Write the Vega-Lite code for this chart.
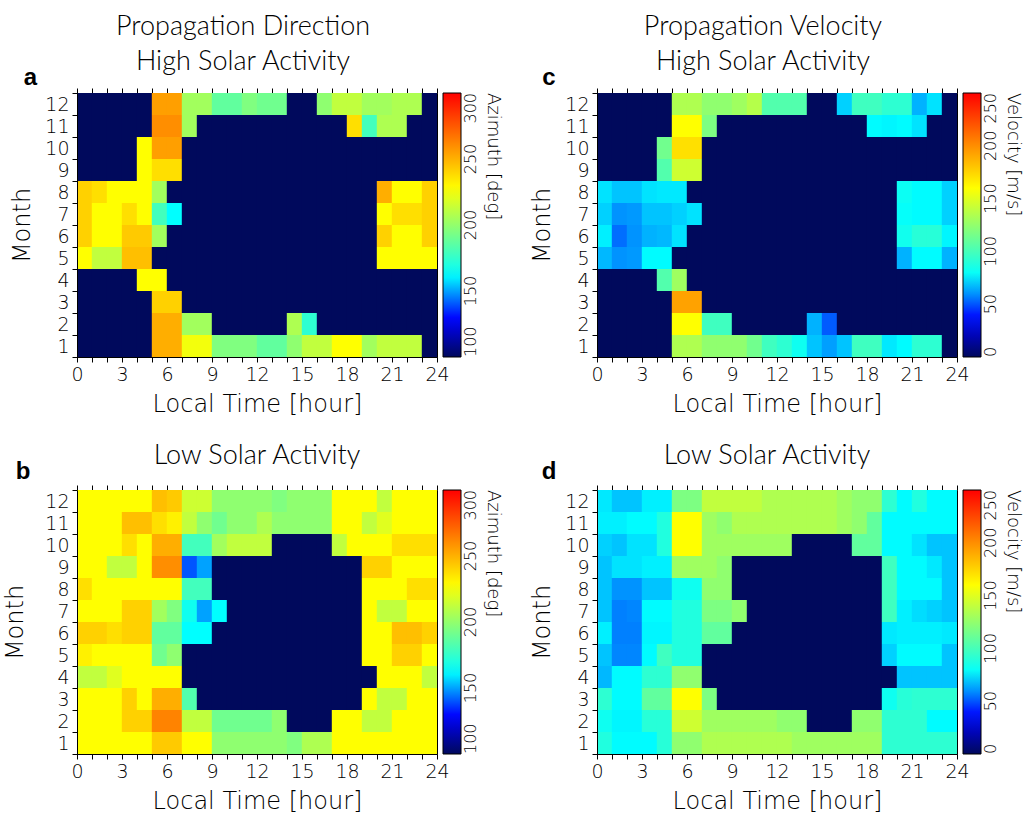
{
"$schema":"https://vega.github.io/schema/vega-lite/v6.json",
"padding":{"left":3,"top":12,"right":2,"bottom":2},
"background":"white",
"config":{
 "font":"DejaVu Sans",
 "view":{"stroke":"black","strokeWidth":1},
 "axis":{"labelFont":"DejaVu Sans","labelFontSize":19,"labelFontWeight":200,"labelColor":"black","titleFont":"DejaVu Sans","titleFontSize":24,"titleFontWeight":200,"titleColor":"black","tickColor":"black","domainColor":"black","grid":false,"labelFlush":false,"labelOverlap":false},
 "legend":{"gradientLength":264,"gradientThickness":18,"gradientStrokeColor":"black","gradientStrokeWidth":1,"offset":6,"titleOrient":"right","titleAngle":270,"titleAnchor":"end","titleFontSize":18,"titleFontWeight":200,"titleFont":"DejaVu Sans","titleColor":"black","labelFontSize":16,"labelFontWeight":200,"labelFont":"DejaVu Sans","labelColor":"black","labelOffset":4,"labelOverlap":false,"labelBaseline":"top"},
 "title":{"font":"Lato","fontSize":27,"fontWeight":300,"color":"black","lineHeight":35,"offset":-10}
},
"datasets":{
"a":[
{"m":12,"h":0,"v":100},{"m":12,"h":1,"v":100},{"m":12,"h":2,"v":100},{"m":12,"h":3,"v":100},{"m":12,"h":4,"v":100},{"m":12,"h":5,"v":255},{"m":12,"h":6,"v":255},{"m":12,"h":7,"v":204},{"m":12,"h":8,"v":204},{"m":12,"h":9,"v":187},{"m":12,"h":10,"v":187},{"m":12,"h":11,"v":195},{"m":12,"h":12,"v":191},{"m":12,"h":13,"v":191},{"m":12,"h":14,"v":100},{"m":12,"h":15,"v":100},{"m":12,"h":16,"v":199},{"m":12,"h":17,"v":212},{"m":12,"h":18,"v":212},{"m":12,"h":19,"v":204},{"m":12,"h":20,"v":204},{"m":12,"h":21,"v":207},{"m":12,"h":22,"v":207},{"m":12,"h":23,"v":100},
{"m":11,"h":0,"v":100},{"m":11,"h":1,"v":100},{"m":11,"h":2,"v":100},{"m":11,"h":3,"v":100},{"m":11,"h":4,"v":100},{"m":11,"h":5,"v":260},{"m":11,"h":6,"v":260},{"m":11,"h":7,"v":204},{"m":11,"h":8,"v":100},{"m":11,"h":9,"v":100},{"m":11,"h":10,"v":100},{"m":11,"h":11,"v":100},{"m":11,"h":12,"v":100},{"m":11,"h":13,"v":100},{"m":11,"h":14,"v":100},{"m":11,"h":15,"v":100},{"m":11,"h":16,"v":100},{"m":11,"h":17,"v":100},{"m":11,"h":18,"v":237},{"m":11,"h":19,"v":179},{"m":11,"h":20,"v":207},{"m":11,"h":21,"v":207},{"m":11,"h":22,"v":100},{"m":11,"h":23,"v":100},
{"m":10,"h":0,"v":100},{"m":10,"h":1,"v":100},{"m":10,"h":2,"v":100},{"m":10,"h":3,"v":100},{"m":10,"h":4,"v":228},{"m":10,"h":5,"v":255},{"m":10,"h":6,"v":255},{"m":10,"h":7,"v":100},{"m":10,"h":8,"v":100},{"m":10,"h":9,"v":100},{"m":10,"h":10,"v":100},{"m":10,"h":11,"v":100},{"m":10,"h":12,"v":100},{"m":10,"h":13,"v":100},{"m":10,"h":14,"v":100},{"m":10,"h":15,"v":100},{"m":10,"h":16,"v":100},{"m":10,"h":17,"v":100},{"m":10,"h":18,"v":100},{"m":10,"h":19,"v":100},{"m":10,"h":20,"v":100},{"m":10,"h":21,"v":100},{"m":10,"h":22,"v":100},{"m":10,"h":23,"v":100},
{"m":9,"h":0,"v":100},{"m":9,"h":1,"v":100},{"m":9,"h":2,"v":100},{"m":9,"h":3,"v":100},{"m":9,"h":4,"v":228},{"m":9,"h":5,"v":237},{"m":9,"h":6,"v":237},{"m":9,"h":7,"v":100},{"m":9,"h":8,"v":100},{"m":9,"h":9,"v":100},{"m":9,"h":10,"v":100},{"m":9,"h":11,"v":100},{"m":9,"h":12,"v":100},{"m":9,"h":13,"v":100},{"m":9,"h":14,"v":100},{"m":9,"h":15,"v":100},{"m":9,"h":16,"v":100},{"m":9,"h":17,"v":100},{"m":9,"h":18,"v":100},{"m":9,"h":19,"v":100},{"m":9,"h":20,"v":100},{"m":9,"h":21,"v":100},{"m":9,"h":22,"v":100},{"m":9,"h":23,"v":100},
{"m":8,"h":0,"v":241},{"m":8,"h":1,"v":237},{"m":8,"h":2,"v":228},{"m":8,"h":3,"v":228},{"m":8,"h":4,"v":228},{"m":8,"h":5,"v":204},{"m":8,"h":6,"v":100},{"m":8,"h":7,"v":100},{"m":8,"h":8,"v":100},{"m":8,"h":9,"v":100},{"m":8,"h":10,"v":100},{"m":8,"h":11,"v":100},{"m":8,"h":12,"v":100},{"m":8,"h":13,"v":100},{"m":8,"h":14,"v":100},{"m":8,"h":15,"v":100},{"m":8,"h":16,"v":100},{"m":8,"h":17,"v":100},{"m":8,"h":18,"v":100},{"m":8,"h":19,"v":100},{"m":8,"h":20,"v":251},{"m":8,"h":21,"v":228},{"m":8,"h":22,"v":228},{"m":8,"h":23,"v":241},
{"m":7,"h":0,"v":241},{"m":7,"h":1,"v":228},{"m":7,"h":2,"v":228},{"m":7,"h":3,"v":237},{"m":7,"h":4,"v":228},{"m":7,"h":5,"v":179},{"m":7,"h":6,"v":162},{"m":7,"h":7,"v":100},{"m":7,"h":8,"v":100},{"m":7,"h":9,"v":100},{"m":7,"h":10,"v":100},{"m":7,"h":11,"v":100},{"m":7,"h":12,"v":100},{"m":7,"h":13,"v":100},{"m":7,"h":14,"v":100},{"m":7,"h":15,"v":100},{"m":7,"h":16,"v":100},{"m":7,"h":17,"v":100},{"m":7,"h":18,"v":100},{"m":7,"h":19,"v":100},{"m":7,"h":20,"v":228},{"m":7,"h":21,"v":237},{"m":7,"h":22,"v":237},{"m":7,"h":23,"v":241},
{"m":6,"h":0,"v":241},{"m":6,"h":1,"v":228},{"m":6,"h":2,"v":228},{"m":6,"h":3,"v":243},{"m":6,"h":4,"v":243},{"m":6,"h":5,"v":204},{"m":6,"h":6,"v":100},{"m":6,"h":7,"v":100},{"m":6,"h":8,"v":100},{"m":6,"h":9,"v":100},{"m":6,"h":10,"v":100},{"m":6,"h":11,"v":100},{"m":6,"h":12,"v":100},{"m":6,"h":13,"v":100},{"m":6,"h":14,"v":100},{"m":6,"h":15,"v":100},{"m":6,"h":16,"v":100},{"m":6,"h":17,"v":100},{"m":6,"h":18,"v":100},{"m":6,"h":19,"v":100},{"m":6,"h":20,"v":241},{"m":6,"h":21,"v":228},{"m":6,"h":22,"v":228},{"m":6,"h":23,"v":241},
{"m":5,"h":0,"v":228},{"m":5,"h":1,"v":212},{"m":5,"h":2,"v":212},{"m":5,"h":3,"v":246},{"m":5,"h":4,"v":246},{"m":5,"h":5,"v":100},{"m":5,"h":6,"v":100},{"m":5,"h":7,"v":100},{"m":5,"h":8,"v":100},{"m":5,"h":9,"v":100},{"m":5,"h":10,"v":100},{"m":5,"h":11,"v":100},{"m":5,"h":12,"v":100},{"m":5,"h":13,"v":100},{"m":5,"h":14,"v":100},{"m":5,"h":15,"v":100},{"m":5,"h":16,"v":100},{"m":5,"h":17,"v":100},{"m":5,"h":18,"v":100},{"m":5,"h":19,"v":100},{"m":5,"h":20,"v":228},{"m":5,"h":21,"v":228},{"m":5,"h":22,"v":228},{"m":5,"h":23,"v":228},
{"m":4,"h":0,"v":100},{"m":4,"h":1,"v":100},{"m":4,"h":2,"v":100},{"m":4,"h":3,"v":100},{"m":4,"h":4,"v":228},{"m":4,"h":5,"v":228},{"m":4,"h":6,"v":100},{"m":4,"h":7,"v":100},{"m":4,"h":8,"v":100},{"m":4,"h":9,"v":100},{"m":4,"h":10,"v":100},{"m":4,"h":11,"v":100},{"m":4,"h":12,"v":100},{"m":4,"h":13,"v":100},{"m":4,"h":14,"v":100},{"m":4,"h":15,"v":100},{"m":4,"h":16,"v":100},{"m":4,"h":17,"v":100},{"m":4,"h":18,"v":100},{"m":4,"h":19,"v":100},{"m":4,"h":20,"v":100},{"m":4,"h":21,"v":100},{"m":4,"h":22,"v":100},{"m":4,"h":23,"v":100},
{"m":3,"h":0,"v":100},{"m":3,"h":1,"v":100},{"m":3,"h":2,"v":100},{"m":3,"h":3,"v":100},{"m":3,"h":4,"v":100},{"m":3,"h":5,"v":241},{"m":3,"h":6,"v":241},{"m":3,"h":7,"v":100},{"m":3,"h":8,"v":100},{"m":3,"h":9,"v":100},{"m":3,"h":10,"v":100},{"m":3,"h":11,"v":100},{"m":3,"h":12,"v":100},{"m":3,"h":13,"v":100},{"m":3,"h":14,"v":100},{"m":3,"h":15,"v":100},{"m":3,"h":16,"v":100},{"m":3,"h":17,"v":100},{"m":3,"h":18,"v":100},{"m":3,"h":19,"v":100},{"m":3,"h":20,"v":100},{"m":3,"h":21,"v":100},{"m":3,"h":22,"v":100},{"m":3,"h":23,"v":100},
{"m":2,"h":0,"v":100},{"m":2,"h":1,"v":100},{"m":2,"h":2,"v":100},{"m":2,"h":3,"v":100},{"m":2,"h":4,"v":100},{"m":2,"h":5,"v":251},{"m":2,"h":6,"v":251},{"m":2,"h":7,"v":204},{"m":2,"h":8,"v":204},{"m":2,"h":9,"v":100},{"m":2,"h":10,"v":100},{"m":2,"h":11,"v":100},{"m":2,"h":12,"v":100},{"m":2,"h":13,"v":100},{"m":2,"h":14,"v":207},{"m":2,"h":15,"v":174},{"m":2,"h":16,"v":100},{"m":2,"h":17,"v":100},{"m":2,"h":18,"v":100},{"m":2,"h":19,"v":100},{"m":2,"h":20,"v":100},{"m":2,"h":21,"v":100},{"m":2,"h":22,"v":100},{"m":2,"h":23,"v":100},
{"m":1,"h":0,"v":100},{"m":1,"h":1,"v":100},{"m":1,"h":2,"v":100},{"m":1,"h":3,"v":100},{"m":1,"h":4,"v":100},{"m":1,"h":5,"v":251},{"m":1,"h":6,"v":251},{"m":1,"h":7,"v":225},{"m":1,"h":8,"v":225},{"m":1,"h":9,"v":195},{"m":1,"h":10,"v":195},{"m":1,"h":11,"v":195},{"m":1,"h":12,"v":187},{"m":1,"h":13,"v":187},{"m":1,"h":14,"v":199},{"m":1,"h":15,"v":212},{"m":1,"h":16,"v":212},{"m":1,"h":17,"v":228},{"m":1,"h":18,"v":228},{"m":1,"h":19,"v":204},{"m":1,"h":20,"v":212},{"m":1,"h":21,"v":212},{"m":1,"h":22,"v":212},{"m":1,"h":23,"v":100}
],
"b":[
{"m":12,"h":0,"v":228},{"m":12,"h":1,"v":228},{"m":12,"h":2,"v":228},{"m":12,"h":3,"v":228},{"m":12,"h":4,"v":228},{"m":12,"h":5,"v":246},{"m":12,"h":6,"v":243},{"m":12,"h":7,"v":215},{"m":12,"h":8,"v":215},{"m":12,"h":9,"v":199},{"m":12,"h":10,"v":199},{"m":12,"h":11,"v":199},{"m":12,"h":12,"v":199},{"m":12,"h":13,"v":195},{"m":12,"h":14,"v":199},{"m":12,"h":15,"v":199},{"m":12,"h":16,"v":199},{"m":12,"h":17,"v":228},{"m":12,"h":18,"v":228},{"m":12,"h":19,"v":228},{"m":12,"h":20,"v":212},{"m":12,"h":21,"v":228},{"m":12,"h":22,"v":228},{"m":12,"h":23,"v":228},
{"m":11,"h":0,"v":228},{"m":11,"h":1,"v":228},{"m":11,"h":2,"v":228},{"m":11,"h":3,"v":246},{"m":11,"h":4,"v":246},{"m":11,"h":5,"v":237},{"m":11,"h":6,"v":232},{"m":11,"h":7,"v":212},{"m":11,"h":8,"v":199},{"m":11,"h":9,"v":191},{"m":11,"h":10,"v":199},{"m":11,"h":11,"v":199},{"m":11,"h":12,"v":207},{"m":11,"h":13,"v":199},{"m":11,"h":14,"v":199},{"m":11,"h":15,"v":199},{"m":11,"h":16,"v":199},{"m":11,"h":17,"v":228},{"m":11,"h":18,"v":228},{"m":11,"h":19,"v":212},{"m":11,"h":20,"v":220},{"m":11,"h":21,"v":228},{"m":11,"h":22,"v":228},{"m":11,"h":23,"v":228},
{"m":10,"h":0,"v":228},{"m":10,"h":1,"v":228},{"m":10,"h":2,"v":228},{"m":10,"h":3,"v":237},{"m":10,"h":4,"v":228},{"m":10,"h":5,"v":251},{"m":10,"h":6,"v":251},{"m":10,"h":7,"v":179},{"m":10,"h":8,"v":179},{"m":10,"h":9,"v":204},{"m":10,"h":10,"v":212},{"m":10,"h":11,"v":212},{"m":10,"h":12,"v":212},{"m":10,"h":13,"v":100},{"m":10,"h":14,"v":100},{"m":10,"h":15,"v":100},{"m":10,"h":16,"v":100},{"m":10,"h":17,"v":212},{"m":10,"h":18,"v":228},{"m":10,"h":19,"v":228},{"m":10,"h":20,"v":228},{"m":10,"h":21,"v":237},{"m":10,"h":22,"v":237},{"m":10,"h":23,"v":237},
{"m":9,"h":0,"v":228},{"m":9,"h":1,"v":228},{"m":9,"h":2,"v":212},{"m":9,"h":3,"v":212},{"m":9,"h":4,"v":228},{"m":9,"h":5,"v":260},{"m":9,"h":6,"v":260},{"m":9,"h":7,"v":140},{"m":9,"h":8,"v":150},{"m":9,"h":9,"v":100},{"m":9,"h":10,"v":100},{"m":9,"h":11,"v":100},{"m":9,"h":12,"v":100},{"m":9,"h":13,"v":100},{"m":9,"h":14,"v":100},{"m":9,"h":15,"v":100},{"m":9,"h":16,"v":100},{"m":9,"h":17,"v":100},{"m":9,"h":18,"v":100},{"m":9,"h":19,"v":241},{"m":9,"h":20,"v":241},{"m":9,"h":21,"v":228},{"m":9,"h":22,"v":228},{"m":9,"h":23,"v":228},
{"m":8,"h":0,"v":237},{"m":8,"h":1,"v":228},{"m":8,"h":2,"v":228},{"m":8,"h":3,"v":228},{"m":8,"h":4,"v":228},{"m":8,"h":5,"v":228},{"m":8,"h":6,"v":228},{"m":8,"h":7,"v":179},{"m":8,"h":8,"v":179},{"m":8,"h":9,"v":100},{"m":8,"h":10,"v":100},{"m":8,"h":11,"v":100},{"m":8,"h":12,"v":100},{"m":8,"h":13,"v":100},{"m":8,"h":14,"v":100},{"m":8,"h":15,"v":100},{"m":8,"h":16,"v":100},{"m":8,"h":17,"v":100},{"m":8,"h":18,"v":100},{"m":8,"h":19,"v":228},{"m":8,"h":20,"v":228},{"m":8,"h":21,"v":228},{"m":8,"h":22,"v":237},{"m":8,"h":23,"v":237},
{"m":7,"h":0,"v":228},{"m":7,"h":1,"v":228},{"m":7,"h":2,"v":228},{"m":7,"h":3,"v":241},{"m":7,"h":4,"v":241},{"m":7,"h":5,"v":204},{"m":7,"h":6,"v":195},{"m":7,"h":7,"v":166},{"m":7,"h":8,"v":150},{"m":7,"h":9,"v":162},{"m":7,"h":10,"v":100},{"m":7,"h":11,"v":100},{"m":7,"h":12,"v":100},{"m":7,"h":13,"v":100},{"m":7,"h":14,"v":100},{"m":7,"h":15,"v":100},{"m":7,"h":16,"v":100},{"m":7,"h":17,"v":100},{"m":7,"h":18,"v":100},{"m":7,"h":19,"v":228},{"m":7,"h":20,"v":212},{"m":7,"h":21,"v":212},{"m":7,"h":22,"v":228},{"m":7,"h":23,"v":228},
{"m":6,"h":0,"v":241},{"m":6,"h":1,"v":241},{"m":6,"h":2,"v":237},{"m":6,"h":3,"v":241},{"m":6,"h":4,"v":241},{"m":6,"h":5,"v":187},{"m":6,"h":6,"v":187},{"m":6,"h":7,"v":162},{"m":6,"h":8,"v":162},{"m":6,"h":9,"v":100},{"m":6,"h":10,"v":100},{"m":6,"h":11,"v":100},{"m":6,"h":12,"v":100},{"m":6,"h":13,"v":100},{"m":6,"h":14,"v":100},{"m":6,"h":15,"v":100},{"m":6,"h":16,"v":100},{"m":6,"h":17,"v":100},{"m":6,"h":18,"v":100},{"m":6,"h":19,"v":228},{"m":6,"h":20,"v":228},{"m":6,"h":21,"v":246},{"m":6,"h":22,"v":246},{"m":6,"h":23,"v":241},
{"m":5,"h":0,"v":232},{"m":5,"h":1,"v":228},{"m":5,"h":2,"v":228},{"m":5,"h":3,"v":228},{"m":5,"h":4,"v":228},{"m":5,"h":5,"v":191},{"m":5,"h":6,"v":199},{"m":5,"h":7,"v":100},{"m":5,"h":8,"v":100},{"m":5,"h":9,"v":100},{"m":5,"h":10,"v":100},{"m":5,"h":11,"v":100},{"m":5,"h":12,"v":100},{"m":5,"h":13,"v":100},{"m":5,"h":14,"v":100},{"m":5,"h":15,"v":100},{"m":5,"h":16,"v":100},{"m":5,"h":17,"v":100},{"m":5,"h":18,"v":100},{"m":5,"h":19,"v":228},{"m":5,"h":20,"v":228},{"m":5,"h":21,"v":241},{"m":5,"h":22,"v":241},{"m":5,"h":23,"v":228},
{"m":4,"h":0,"v":212},{"m":4,"h":1,"v":212},{"m":4,"h":2,"v":220},{"m":4,"h":3,"v":228},{"m":4,"h":4,"v":228},{"m":4,"h":5,"v":228},{"m":4,"h":6,"v":228},{"m":4,"h":7,"v":100},{"m":4,"h":8,"v":100},{"m":4,"h":9,"v":100},{"m":4,"h":10,"v":100},{"m":4,"h":11,"v":100},{"m":4,"h":12,"v":100},{"m":4,"h":13,"v":100},{"m":4,"h":14,"v":100},{"m":4,"h":15,"v":100},{"m":4,"h":16,"v":100},{"m":4,"h":17,"v":100},{"m":4,"h":18,"v":100},{"m":4,"h":19,"v":100},{"m":4,"h":20,"v":228},{"m":4,"h":21,"v":228},{"m":4,"h":22,"v":228},{"m":4,"h":23,"v":212},
{"m":3,"h":0,"v":228},{"m":3,"h":1,"v":228},{"m":3,"h":2,"v":228},{"m":3,"h":3,"v":241},{"m":3,"h":4,"v":228},{"m":3,"h":5,"v":251},{"m":3,"h":6,"v":251},{"m":3,"h":7,"v":183},{"m":3,"h":8,"v":100},{"m":3,"h":9,"v":100},{"m":3,"h":10,"v":100},{"m":3,"h":11,"v":100},{"m":3,"h":12,"v":100},{"m":3,"h":13,"v":100},{"m":3,"h":14,"v":100},{"m":3,"h":15,"v":100},{"m":3,"h":16,"v":100},{"m":3,"h":17,"v":100},{"m":3,"h":18,"v":100},{"m":3,"h":19,"v":228},{"m":3,"h":20,"v":212},{"m":3,"h":21,"v":212},{"m":3,"h":22,"v":228},{"m":3,"h":23,"v":228},
{"m":2,"h":0,"v":228},{"m":2,"h":1,"v":228},{"m":2,"h":2,"v":228},{"m":2,"h":3,"v":241},{"m":2,"h":4,"v":241},{"m":2,"h":5,"v":263},{"m":2,"h":6,"v":263},{"m":2,"h":7,"v":212},{"m":2,"h":8,"v":212},{"m":2,"h":9,"v":191},{"m":2,"h":10,"v":191},{"m":2,"h":11,"v":191},{"m":2,"h":12,"v":191},{"m":2,"h":13,"v":199},{"m":2,"h":14,"v":100},{"m":2,"h":15,"v":100},{"m":2,"h":16,"v":100},{"m":2,"h":17,"v":228},{"m":2,"h":18,"v":228},{"m":2,"h":19,"v":212},{"m":2,"h":20,"v":212},{"m":2,"h":21,"v":228},{"m":2,"h":22,"v":228},{"m":2,"h":23,"v":228},
{"m":1,"h":0,"v":228},{"m":1,"h":1,"v":228},{"m":1,"h":2,"v":228},{"m":1,"h":3,"v":228},{"m":1,"h":4,"v":228},{"m":1,"h":5,"v":243},{"m":1,"h":6,"v":243},{"m":1,"h":7,"v":228},{"m":1,"h":8,"v":228},{"m":1,"h":9,"v":199},{"m":1,"h":10,"v":199},{"m":1,"h":11,"v":199},{"m":1,"h":12,"v":199},{"m":1,"h":13,"v":199},{"m":1,"h":14,"v":195},{"m":1,"h":15,"v":207},{"m":1,"h":16,"v":207},{"m":1,"h":17,"v":228},{"m":1,"h":18,"v":228},{"m":1,"h":19,"v":228},{"m":1,"h":20,"v":228},{"m":1,"h":21,"v":228},{"m":1,"h":22,"v":228},{"m":1,"h":23,"v":228}
],
"c":[
{"m":12,"h":0,"v":0},{"m":12,"h":1,"v":0},{"m":12,"h":2,"v":0},{"m":12,"h":3,"v":0},{"m":12,"h":4,"v":0},{"m":12,"h":5,"v":134},{"m":12,"h":6,"v":134},{"m":12,"h":7,"v":124},{"m":12,"h":8,"v":124},{"m":12,"h":9,"v":129},{"m":12,"h":10,"v":136},{"m":12,"h":11,"v":104},{"m":12,"h":12,"v":104},{"m":12,"h":13,"v":104},{"m":12,"h":14,"v":0},{"m":12,"h":15,"v":0},{"m":12,"h":16,"v":70},{"m":12,"h":17,"v":98},{"m":12,"h":18,"v":98},{"m":12,"h":19,"v":92},{"m":12,"h":20,"v":92},{"m":12,"h":21,"v":65},{"m":12,"h":22,"v":73},{"m":12,"h":23,"v":0},
{"m":11,"h":0,"v":0},{"m":11,"h":1,"v":0},{"m":11,"h":2,"v":0},{"m":11,"h":3,"v":0},{"m":11,"h":4,"v":0},{"m":11,"h":5,"v":160},{"m":11,"h":6,"v":160},{"m":11,"h":7,"v":118},{"m":11,"h":8,"v":0},{"m":11,"h":9,"v":0},{"m":11,"h":10,"v":0},{"m":11,"h":11,"v":0},{"m":11,"h":12,"v":0},{"m":11,"h":13,"v":0},{"m":11,"h":14,"v":0},{"m":11,"h":15,"v":0},{"m":11,"h":16,"v":0},{"m":11,"h":17,"v":0},{"m":11,"h":18,"v":77},{"m":11,"h":19,"v":76},{"m":11,"h":20,"v":77},{"m":11,"h":21,"v":73},{"m":11,"h":22,"v":0},{"m":11,"h":23,"v":0},
{"m":10,"h":0,"v":0},{"m":10,"h":1,"v":0},{"m":10,"h":2,"v":0},{"m":10,"h":3,"v":0},{"m":10,"h":4,"v":114},{"m":10,"h":5,"v":171},{"m":10,"h":6,"v":171},{"m":10,"h":7,"v":0},{"m":10,"h":8,"v":0},{"m":10,"h":9,"v":0},{"m":10,"h":10,"v":0},{"m":10,"h":11,"v":0},{"m":10,"h":12,"v":0},{"m":10,"h":13,"v":0},{"m":10,"h":14,"v":0},{"m":10,"h":15,"v":0},{"m":10,"h":16,"v":0},{"m":10,"h":17,"v":0},{"m":10,"h":18,"v":0},{"m":10,"h":19,"v":0},{"m":10,"h":20,"v":0},{"m":10,"h":21,"v":0},{"m":10,"h":22,"v":0},{"m":10,"h":23,"v":0},
{"m":9,"h":0,"v":0},{"m":9,"h":1,"v":0},{"m":9,"h":2,"v":0},{"m":9,"h":3,"v":0},{"m":9,"h":4,"v":104},{"m":9,"h":5,"v":144},{"m":9,"h":6,"v":144},{"m":9,"h":7,"v":0},{"m":9,"h":8,"v":0},{"m":9,"h":9,"v":0},{"m":9,"h":10,"v":0},{"m":9,"h":11,"v":0},{"m":9,"h":12,"v":0},{"m":9,"h":13,"v":0},{"m":9,"h":14,"v":0},{"m":9,"h":15,"v":0},{"m":9,"h":16,"v":0},{"m":9,"h":17,"v":0},{"m":9,"h":18,"v":0},{"m":9,"h":19,"v":0},{"m":9,"h":20,"v":0},{"m":9,"h":21,"v":0},{"m":9,"h":22,"v":0},{"m":9,"h":23,"v":0},
{"m":8,"h":0,"v":73},{"m":8,"h":1,"v":68},{"m":8,"h":2,"v":68},{"m":8,"h":3,"v":73},{"m":8,"h":4,"v":74},{"m":8,"h":5,"v":74},{"m":8,"h":6,"v":0},{"m":8,"h":7,"v":0},{"m":8,"h":8,"v":0},{"m":8,"h":9,"v":0},{"m":8,"h":10,"v":0},{"m":8,"h":11,"v":0},{"m":8,"h":12,"v":0},{"m":8,"h":13,"v":0},{"m":8,"h":14,"v":0},{"m":8,"h":15,"v":0},{"m":8,"h":16,"v":0},{"m":8,"h":17,"v":0},{"m":8,"h":18,"v":0},{"m":8,"h":19,"v":0},{"m":8,"h":20,"v":81},{"m":8,"h":21,"v":77},{"m":8,"h":22,"v":77},{"m":8,"h":23,"v":70},
{"m":7,"h":0,"v":70},{"m":7,"h":1,"v":60},{"m":7,"h":2,"v":61},{"m":7,"h":3,"v":68},{"m":7,"h":4,"v":68},{"m":7,"h":5,"v":70},{"m":7,"h":6,"v":73},{"m":7,"h":7,"v":0},{"m":7,"h":8,"v":0},{"m":7,"h":9,"v":0},{"m":7,"h":10,"v":0},{"m":7,"h":11,"v":0},{"m":7,"h":12,"v":0},{"m":7,"h":13,"v":0},{"m":7,"h":14,"v":0},{"m":7,"h":15,"v":0},{"m":7,"h":16,"v":0},{"m":7,"h":17,"v":0},{"m":7,"h":18,"v":0},{"m":7,"h":19,"v":0},{"m":7,"h":20,"v":79},{"m":7,"h":21,"v":77},{"m":7,"h":22,"v":77},{"m":7,"h":23,"v":70},
{"m":6,"h":0,"v":75},{"m":6,"h":1,"v":54},{"m":6,"h":2,"v":60},{"m":6,"h":3,"v":65},{"m":6,"h":4,"v":66},{"m":6,"h":5,"v":73},{"m":6,"h":6,"v":0},{"m":6,"h":7,"v":0},{"m":6,"h":8,"v":0},{"m":6,"h":9,"v":0},{"m":6,"h":10,"v":0},{"m":6,"h":11,"v":0},{"m":6,"h":12,"v":0},{"m":6,"h":13,"v":0},{"m":6,"h":14,"v":0},{"m":6,"h":15,"v":0},{"m":6,"h":16,"v":0},{"m":6,"h":17,"v":0},{"m":6,"h":18,"v":0},{"m":6,"h":19,"v":0},{"m":6,"h":20,"v":83},{"m":6,"h":21,"v":90},{"m":6,"h":22,"v":90},{"m":6,"h":23,"v":76},
{"m":5,"h":0,"v":66},{"m":5,"h":1,"v":60},{"m":5,"h":2,"v":61},{"m":5,"h":3,"v":77},{"m":5,"h":4,"v":77},{"m":5,"h":5,"v":0},{"m":5,"h":6,"v":0},{"m":5,"h":7,"v":0},{"m":5,"h":8,"v":0},{"m":5,"h":9,"v":0},{"m":5,"h":10,"v":0},{"m":5,"h":11,"v":0},{"m":5,"h":12,"v":0},{"m":5,"h":13,"v":0},{"m":5,"h":14,"v":0},{"m":5,"h":15,"v":0},{"m":5,"h":16,"v":0},{"m":5,"h":17,"v":0},{"m":5,"h":18,"v":0},{"m":5,"h":19,"v":0},{"m":5,"h":20,"v":65},{"m":5,"h":21,"v":77},{"m":5,"h":22,"v":77},{"m":5,"h":23,"v":65},
{"m":4,"h":0,"v":0},{"m":4,"h":1,"v":0},{"m":4,"h":2,"v":0},{"m":4,"h":3,"v":0},{"m":4,"h":4,"v":104},{"m":4,"h":5,"v":129},{"m":4,"h":6,"v":0},{"m":4,"h":7,"v":0},{"m":4,"h":8,"v":0},{"m":4,"h":9,"v":0},{"m":4,"h":10,"v":0},{"m":4,"h":11,"v":0},{"m":4,"h":12,"v":0},{"m":4,"h":13,"v":0},{"m":4,"h":14,"v":0},{"m":4,"h":15,"v":0},{"m":4,"h":16,"v":0},{"m":4,"h":17,"v":0},{"m":4,"h":18,"v":0},{"m":4,"h":19,"v":0},{"m":4,"h":20,"v":0},{"m":4,"h":21,"v":0},{"m":4,"h":22,"v":0},{"m":4,"h":23,"v":0},
{"m":3,"h":0,"v":0},{"m":3,"h":1,"v":0},{"m":3,"h":2,"v":0},{"m":3,"h":3,"v":0},{"m":3,"h":4,"v":0},{"m":3,"h":5,"v":193},{"m":3,"h":6,"v":193},{"m":3,"h":7,"v":0},{"m":3,"h":8,"v":0},{"m":3,"h":9,"v":0},{"m":3,"h":10,"v":0},{"m":3,"h":11,"v":0},{"m":3,"h":12,"v":0},{"m":3,"h":13,"v":0},{"m":3,"h":14,"v":0},{"m":3,"h":15,"v":0},{"m":3,"h":16,"v":0},{"m":3,"h":17,"v":0},{"m":3,"h":18,"v":0},{"m":3,"h":19,"v":0},{"m":3,"h":20,"v":0},{"m":3,"h":21,"v":0},{"m":3,"h":22,"v":0},{"m":3,"h":23,"v":0},
{"m":2,"h":0,"v":0},{"m":2,"h":1,"v":0},{"m":2,"h":2,"v":0},{"m":2,"h":3,"v":0},{"m":2,"h":4,"v":0},{"m":2,"h":5,"v":160},{"m":2,"h":6,"v":160},{"m":2,"h":7,"v":98},{"m":2,"h":8,"v":98},{"m":2,"h":9,"v":0},{"m":2,"h":10,"v":0},{"m":2,"h":11,"v":0},{"m":2,"h":12,"v":0},{"m":2,"h":13,"v":0},{"m":2,"h":14,"v":65},{"m":2,"h":15,"v":51},{"m":2,"h":16,"v":0},{"m":2,"h":17,"v":0},{"m":2,"h":18,"v":0},{"m":2,"h":19,"v":0},{"m":2,"h":20,"v":0},{"m":2,"h":21,"v":0},{"m":2,"h":22,"v":0},{"m":2,"h":23,"v":0},
{"m":1,"h":0,"v":0},{"m":1,"h":1,"v":0},{"m":1,"h":2,"v":0},{"m":1,"h":3,"v":0},{"m":1,"h":4,"v":0},{"m":1,"h":5,"v":134},{"m":1,"h":6,"v":134},{"m":1,"h":7,"v":124},{"m":1,"h":8,"v":124},{"m":1,"h":9,"v":124},{"m":1,"h":10,"v":114},{"m":1,"h":11,"v":98},{"m":1,"h":12,"v":92},{"m":1,"h":13,"v":82},{"m":1,"h":14,"v":68},{"m":1,"h":15,"v":62},{"m":1,"h":16,"v":68},{"m":1,"h":17,"v":98},{"m":1,"h":18,"v":98},{"m":1,"h":19,"v":74},{"m":1,"h":20,"v":77},{"m":1,"h":21,"v":92},{"m":1,"h":22,"v":92},{"m":1,"h":23,"v":0}
],
"d":[
{"m":12,"h":0,"v":74},{"m":12,"h":1,"v":68},{"m":12,"h":2,"v":68},{"m":12,"h":3,"v":75},{"m":12,"h":4,"v":75},{"m":12,"h":5,"v":118},{"m":12,"h":6,"v":118},{"m":12,"h":7,"v":140},{"m":12,"h":8,"v":140},{"m":12,"h":9,"v":140},{"m":12,"h":10,"v":140},{"m":12,"h":11,"v":134},{"m":12,"h":12,"v":134},{"m":12,"h":13,"v":134},{"m":12,"h":14,"v":134},{"m":12,"h":15,"v":134},{"m":12,"h":16,"v":129},{"m":12,"h":17,"v":124},{"m":12,"h":18,"v":124},{"m":12,"h":19,"v":92},{"m":12,"h":20,"v":77},{"m":12,"h":21,"v":88},{"m":12,"h":22,"v":77},{"m":12,"h":23,"v":77},
{"m":11,"h":0,"v":75},{"m":11,"h":1,"v":75},{"m":11,"h":2,"v":77},{"m":11,"h":3,"v":77},{"m":11,"h":4,"v":88},{"m":11,"h":5,"v":160},{"m":11,"h":6,"v":160},{"m":11,"h":7,"v":129},{"m":11,"h":8,"v":124},{"m":11,"h":9,"v":134},{"m":11,"h":10,"v":134},{"m":11,"h":11,"v":134},{"m":11,"h":12,"v":134},{"m":11,"h":13,"v":134},{"m":11,"h":14,"v":134},{"m":11,"h":15,"v":134},{"m":11,"h":16,"v":129},{"m":11,"h":17,"v":124},{"m":11,"h":18,"v":109},{"m":11,"h":19,"v":77},{"m":11,"h":20,"v":77},{"m":11,"h":21,"v":77},{"m":11,"h":22,"v":77},{"m":11,"h":23,"v":77},
{"m":10,"h":0,"v":70},{"m":10,"h":1,"v":68},{"m":10,"h":2,"v":73},{"m":10,"h":3,"v":73},{"m":10,"h":4,"v":88},{"m":10,"h":5,"v":160},{"m":10,"h":6,"v":160},{"m":10,"h":7,"v":129},{"m":10,"h":8,"v":129},{"m":10,"h":9,"v":129},{"m":10,"h":10,"v":129},{"m":10,"h":11,"v":129},{"m":10,"h":12,"v":129},{"m":10,"h":13,"v":0},{"m":10,"h":14,"v":0},{"m":10,"h":15,"v":0},{"m":10,"h":16,"v":0},{"m":10,"h":17,"v":109},{"m":10,"h":18,"v":109},{"m":10,"h":19,"v":77},{"m":10,"h":20,"v":77},{"m":10,"h":21,"v":73},{"m":10,"h":22,"v":68},{"m":10,"h":23,"v":68},
{"m":9,"h":0,"v":68},{"m":9,"h":1,"v":73},{"m":9,"h":2,"v":73},{"m":9,"h":3,"v":75},{"m":9,"h":4,"v":75},{"m":9,"h":5,"v":129},{"m":9,"h":6,"v":129},{"m":9,"h":7,"v":129},{"m":9,"h":8,"v":124},{"m":9,"h":9,"v":0},{"m":9,"h":10,"v":0},{"m":9,"h":11,"v":0},{"m":9,"h":12,"v":0},{"m":9,"h":13,"v":0},{"m":9,"h":14,"v":0},{"m":9,"h":15,"v":0},{"m":9,"h":16,"v":0},{"m":9,"h":17,"v":0},{"m":9,"h":18,"v":0},{"m":9,"h":19,"v":98},{"m":9,"h":20,"v":77},{"m":9,"h":21,"v":77},{"m":9,"h":22,"v":74},{"m":9,"h":23,"v":68},
{"m":8,"h":0,"v":68},{"m":8,"h":1,"v":60},{"m":8,"h":2,"v":60},{"m":8,"h":3,"v":68},{"m":8,"h":4,"v":68},{"m":8,"h":5,"v":82},{"m":8,"h":6,"v":82},{"m":8,"h":7,"v":124},{"m":8,"h":8,"v":124},{"m":8,"h":9,"v":0},{"m":8,"h":10,"v":0},{"m":8,"h":11,"v":0},{"m":8,"h":12,"v":0},{"m":8,"h":13,"v":0},{"m":8,"h":14,"v":0},{"m":8,"h":15,"v":0},{"m":8,"h":16,"v":0},{"m":8,"h":17,"v":0},{"m":8,"h":18,"v":0},{"m":8,"h":19,"v":98},{"m":8,"h":20,"v":77},{"m":8,"h":21,"v":77},{"m":8,"h":22,"v":77},{"m":8,"h":23,"v":68},
{"m":7,"h":0,"v":68},{"m":7,"h":1,"v":57},{"m":7,"h":2,"v":58},{"m":7,"h":3,"v":77},{"m":7,"h":4,"v":77},{"m":7,"h":5,"v":88},{"m":7,"h":6,"v":88},{"m":7,"h":7,"v":118},{"m":7,"h":8,"v":118},{"m":7,"h":9,"v":124},{"m":7,"h":10,"v":0},{"m":7,"h":11,"v":0},{"m":7,"h":12,"v":0},{"m":7,"h":13,"v":0},{"m":7,"h":14,"v":0},{"m":7,"h":15,"v":0},{"m":7,"h":16,"v":0},{"m":7,"h":17,"v":0},{"m":7,"h":18,"v":0},{"m":7,"h":19,"v":98},{"m":7,"h":20,"v":75},{"m":7,"h":21,"v":72},{"m":7,"h":22,"v":70},{"m":7,"h":23,"v":68},
{"m":6,"h":0,"v":75},{"m":6,"h":1,"v":57},{"m":6,"h":2,"v":57},{"m":6,"h":3,"v":76},{"m":6,"h":4,"v":76},{"m":6,"h":5,"v":88},{"m":6,"h":6,"v":88},{"m":6,"h":7,"v":109},{"m":6,"h":8,"v":109},{"m":6,"h":9,"v":0},{"m":6,"h":10,"v":0},{"m":6,"h":11,"v":0},{"m":6,"h":12,"v":0},{"m":6,"h":13,"v":0},{"m":6,"h":14,"v":0},{"m":6,"h":15,"v":0},{"m":6,"h":16,"v":0},{"m":6,"h":17,"v":0},{"m":6,"h":18,"v":0},{"m":6,"h":19,"v":74},{"m":6,"h":20,"v":75},{"m":6,"h":21,"v":75},{"m":6,"h":22,"v":75},{"m":6,"h":23,"v":74},
{"m":5,"h":0,"v":68},{"m":5,"h":1,"v":58},{"m":5,"h":2,"v":58},{"m":5,"h":3,"v":77},{"m":5,"h":4,"v":98},{"m":5,"h":5,"v":88},{"m":5,"h":6,"v":88},{"m":5,"h":7,"v":0},{"m":5,"h":8,"v":0},{"m":5,"h":9,"v":0},{"m":5,"h":10,"v":0},{"m":5,"h":11,"v":0},{"m":5,"h":12,"v":0},{"m":5,"h":13,"v":0},{"m":5,"h":14,"v":0},{"m":5,"h":15,"v":0},{"m":5,"h":16,"v":0},{"m":5,"h":17,"v":0},{"m":5,"h":18,"v":0},{"m":5,"h":19,"v":70},{"m":5,"h":20,"v":77},{"m":5,"h":21,"v":77},{"m":5,"h":22,"v":77},{"m":5,"h":23,"v":68},
{"m":4,"h":0,"v":66},{"m":4,"h":1,"v":77},{"m":4,"h":2,"v":77},{"m":4,"h":3,"v":92},{"m":4,"h":4,"v":92},{"m":4,"h":5,"v":124},{"m":4,"h":6,"v":124},{"m":4,"h":7,"v":0},{"m":4,"h":8,"v":0},{"m":4,"h":9,"v":0},{"m":4,"h":10,"v":0},{"m":4,"h":11,"v":0},{"m":4,"h":12,"v":0},{"m":4,"h":13,"v":0},{"m":4,"h":14,"v":0},{"m":4,"h":15,"v":0},{"m":4,"h":16,"v":0},{"m":4,"h":17,"v":0},{"m":4,"h":18,"v":0},{"m":4,"h":19,"v":0},{"m":4,"h":20,"v":68},{"m":4,"h":21,"v":68},{"m":4,"h":22,"v":68},{"m":4,"h":23,"v":68},
{"m":3,"h":0,"v":92},{"m":3,"h":1,"v":77},{"m":3,"h":2,"v":77},{"m":3,"h":3,"v":109},{"m":3,"h":4,"v":109},{"m":3,"h":5,"v":160},{"m":3,"h":6,"v":160},{"m":3,"h":7,"v":118},{"m":3,"h":8,"v":0},{"m":3,"h":9,"v":0},{"m":3,"h":10,"v":0},{"m":3,"h":11,"v":0},{"m":3,"h":12,"v":0},{"m":3,"h":13,"v":0},{"m":3,"h":14,"v":0},{"m":3,"h":15,"v":0},{"m":3,"h":16,"v":0},{"m":3,"h":17,"v":0},{"m":3,"h":18,"v":0},{"m":3,"h":19,"v":82},{"m":3,"h":20,"v":90},{"m":3,"h":21,"v":92},{"m":3,"h":22,"v":92},{"m":3,"h":23,"v":92},
{"m":2,"h":0,"v":82},{"m":2,"h":1,"v":76},{"m":2,"h":2,"v":76},{"m":2,"h":3,"v":90},{"m":2,"h":4,"v":90},{"m":2,"h":5,"v":144},{"m":2,"h":6,"v":144},{"m":2,"h":7,"v":129},{"m":2,"h":8,"v":129},{"m":2,"h":9,"v":129},{"m":2,"h":10,"v":129},{"m":2,"h":11,"v":129},{"m":2,"h":12,"v":124},{"m":2,"h":13,"v":124},{"m":2,"h":14,"v":0},{"m":2,"h":15,"v":0},{"m":2,"h":16,"v":0},{"m":2,"h":17,"v":124},{"m":2,"h":18,"v":124},{"m":2,"h":19,"v":92},{"m":2,"h":20,"v":92},{"m":2,"h":21,"v":92},{"m":2,"h":22,"v":77},{"m":2,"h":23,"v":77},
{"m":1,"h":0,"v":88},{"m":1,"h":1,"v":77},{"m":1,"h":2,"v":77},{"m":1,"h":3,"v":77},{"m":1,"h":4,"v":90},{"m":1,"h":5,"v":124},{"m":1,"h":6,"v":124},{"m":1,"h":7,"v":134},{"m":1,"h":8,"v":134},{"m":1,"h":9,"v":134},{"m":1,"h":10,"v":134},{"m":1,"h":11,"v":134},{"m":1,"h":12,"v":134},{"m":1,"h":13,"v":129},{"m":1,"h":14,"v":129},{"m":1,"h":15,"v":129},{"m":1,"h":16,"v":129},{"m":1,"h":17,"v":129},{"m":1,"h":18,"v":129},{"m":1,"h":19,"v":92},{"m":1,"h":20,"v":92},{"m":1,"h":21,"v":92},{"m":1,"h":22,"v":92},{"m":1,"h":23,"v":92}
]
},
"vconcat":[
{"hconcat":[
 {"width":360,"height":264,"data":{"name":"a"},
  "title":{"text":["Propagation Direction","High Solar Activity"],"dx":-14},
  "layer":[
   {"mark":{"type":"rect","binSpacing":0,"x2Offset":-0.7,"clip":true},
    "encoding":{
     "x":{"field":"h","type":"quantitative","bin":{"binned":true,"step":1},"scale":{"domain":[0,24],"nice":false,"zero":false},"axis":{"title":"Local Time [hour]","values":[0,1,2,3,4,5,6,7,8,9,10,11,12,13,14,15,16,17,18,19,20,21,22,23,24],"labelExpr":"datum.value % 3 === 0 ? datum.label : ''","tickSize":5,"labelPadding":3,"titlePadding":8}},
     "y":{"field":"m","type":"ordinal","scale":{"domain":[12,11,10,9,8,7,6,5,4,3,2,1],"paddingInner":0,"paddingOuter":0},"axis":{"title":"Month","tickBand":"extent","tickSize":5,"labelPadding":3,"titlePadding":10,"labelAngle":0}},
     "color":{"field":"v","type":"quantitative","scale":{"domain":[100,129,162,228,300],"range":["#00095c","#0000ff","#00ffff","#ffff00","#ff0000"],"interpolate":"rgb"},
      "legend":{"title":"Azimuth [deg]","values":[100,150,200,250,300],"encode":{"labels":{"update":{"angle":{"value":270},"baseline":{"value":"top"},"align":{"signal":"datum.perc <= 0 ? 'left' : datum.perc >= 1 ? 'right' : 'center'"}}}}}}
    }},
   {"data":{"values":[{"t":"a"}]},
    "mark":{"type":"text","font":"Liberation Sans","fontSize":24,"fontWeight":"bold","dy":-26,"color":"black"},
    "encoding":{"text":{"field":"t"},
     "x":{"datum":-3.1,"type":"quantitative","scale":{"domain":[0,24]},"axis":{"orient":"top","values":[0,1,2,3,4,5,6,7,8,9,10,11,12,13,14,15,16,17,18,19,20,21,22,23,24],"labels":false,"title":null,"domain":false,"tickSize":5}},
     "y":{"datum":12,"type":"ordinal"}}}
  ],
  "resolve":{"axis":{"x":"independent"}}},
 {"width":360,"height":264,"data":{"name":"c"},
  "title":{"text":["Propagation Velocity","High Solar Activity"],"dx":-14},
  "layer":[
   {"mark":{"type":"rect","binSpacing":0,"x2Offset":-0.7,"clip":true},
    "encoding":{
     "x":{"field":"h","type":"quantitative","bin":{"binned":true,"step":1},"scale":{"domain":[0,24],"nice":false,"zero":false},"axis":{"title":"Local Time [hour]","values":[0,1,2,3,4,5,6,7,8,9,10,11,12,13,14,15,16,17,18,19,20,21,22,23,24],"labelExpr":"datum.value % 3 === 0 ? datum.label : ''","tickSize":5,"labelPadding":3,"titlePadding":8}},
     "y":{"field":"m","type":"ordinal","scale":{"domain":[12,11,10,9,8,7,6,5,4,3,2,1],"paddingInner":0,"paddingOuter":0},"axis":{"title":"Month","tickBand":"extent","tickSize":5,"labelPadding":3,"titlePadding":10,"labelAngle":0}},
     "color":{"field":"v","type":"quantitative","scale":{"domain":[0,36.25,77.5,160,250],"range":["#00095c","#0000ff","#00ffff","#ffff00","#ff0000"],"interpolate":"rgb"},
      "legend":{"title":"Velocity [m/s]","values":[0,50,100,150,200,250],"encode":{"labels":{"update":{"angle":{"value":270},"baseline":{"value":"top"},"align":{"signal":"datum.perc <= 0 ? 'left' : datum.perc >= 1 ? 'right' : 'center'"}}}}}}
    }},
   {"data":{"values":[{"t":"c"}]},
    "mark":{"type":"text","font":"Liberation Sans","fontSize":24,"fontWeight":"bold","dy":-26,"color":"black"},
    "encoding":{"text":{"field":"t"},
     "x":{"datum":-3.2,"type":"quantitative","scale":{"domain":[0,24]},"axis":{"orient":"top","values":[0,1,2,3,4,5,6,7,8,9,10,11,12,13,14,15,16,17,18,19,20,21,22,23,24],"labels":false,"title":null,"domain":false,"tickSize":5}},
     "y":{"datum":12,"type":"ordinal"}}}
  ],
  "resolve":{"axis":{"x":"independent"}}}
 ],"spacing":26,"resolve":{"scale":{"color":"independent"},"legend":{"color":"independent"}}},
{"hconcat":[
 {"width":360,"height":264,"data":{"name":"b"},
  "title":{"text":"Low Solar Activity","dx":0},
  "layer":[
   {"mark":{"type":"rect","binSpacing":0,"x2Offset":-0.7,"clip":true},
    "encoding":{
     "x":{"field":"h","type":"quantitative","bin":{"binned":true,"step":1},"scale":{"domain":[0,24],"nice":false,"zero":false},"axis":{"title":"Local Time [hour]","values":[0,1,2,3,4,5,6,7,8,9,10,11,12,13,14,15,16,17,18,19,20,21,22,23,24],"labelExpr":"datum.value % 3 === 0 ? datum.label : ''","tickSize":5,"labelPadding":3,"titlePadding":8}},
     "y":{"field":"m","type":"ordinal","scale":{"domain":[12,11,10,9,8,7,6,5,4,3,2,1],"paddingInner":0,"paddingOuter":0},"axis":{"title":"Month","tickBand":"extent","tickSize":5,"labelPadding":3,"titlePadding":17,"labelAngle":0}},
     "color":{"field":"v","type":"quantitative","scale":{"domain":[100,129,162,228,300],"range":["#00095c","#0000ff","#00ffff","#ffff00","#ff0000"],"interpolate":"rgb"},
      "legend":{"title":"Azimuth [deg]","values":[100,150,200,250,300],"encode":{"labels":{"update":{"angle":{"value":270},"baseline":{"value":"top"},"align":{"signal":"datum.perc <= 0 ? 'left' : datum.perc >= 1 ? 'right' : 'center'"}}}}}}
    }},
   {"data":{"values":[{"t":"b"}]},
    "mark":{"type":"text","font":"Liberation Sans","fontSize":24,"fontWeight":"bold","dy":-29,"color":"black"},
    "encoding":{"text":{"field":"t"},
     "x":{"datum":-3.6,"type":"quantitative","scale":{"domain":[0,24]},"axis":{"orient":"top","values":[0,1,2,3,4,5,6,7,8,9,10,11,12,13,14,15,16,17,18,19,20,21,22,23,24],"labels":false,"title":null,"domain":false,"tickSize":5}},
     "y":{"datum":12,"type":"ordinal"}}}
  ],
  "resolve":{"axis":{"x":"independent"}}},
 {"width":360,"height":264,"data":{"name":"d"},
  "title":{"text":"Low Solar Activity","dx":-10},
  "layer":[
   {"mark":{"type":"rect","binSpacing":0,"x2Offset":-0.7,"clip":true},
    "encoding":{
     "x":{"field":"h","type":"quantitative","bin":{"binned":true,"step":1},"scale":{"domain":[0,24],"nice":false,"zero":false},"axis":{"title":"Local Time [hour]","values":[0,1,2,3,4,5,6,7,8,9,10,11,12,13,14,15,16,17,18,19,20,21,22,23,24],"labelExpr":"datum.value % 3 === 0 ? datum.label : ''","tickSize":5,"labelPadding":3,"titlePadding":8}},
     "y":{"field":"m","type":"ordinal","scale":{"domain":[12,11,10,9,8,7,6,5,4,3,2,1],"paddingInner":0,"paddingOuter":0},"axis":{"title":"Month","tickBand":"extent","tickSize":5,"labelPadding":3,"titlePadding":10,"labelAngle":0}},
     "color":{"field":"v","type":"quantitative","scale":{"domain":[0,36.25,77.5,160,250],"range":["#00095c","#0000ff","#00ffff","#ffff00","#ff0000"],"interpolate":"rgb"},
      "legend":{"title":"Velocity [m/s]","values":[0,50,100,150,200,250],"encode":{"labels":{"update":{"angle":{"value":270},"baseline":{"value":"top"},"align":{"signal":"datum.perc <= 0 ? 'left' : datum.perc >= 1 ? 'right' : 'center'"}}}}}}
    }},
   {"data":{"values":[{"t":"d"}]},
    "mark":{"type":"text","font":"Liberation Sans","fontSize":24,"fontWeight":"bold","dy":-29,"color":"black"},
    "encoding":{"text":{"field":"t"},
     "x":{"datum":-3.2,"type":"quantitative","scale":{"domain":[0,24]},"axis":{"orient":"top","values":[0,1,2,3,4,5,6,7,8,9,10,11,12,13,14,15,16,17,18,19,20,21,22,23,24],"labels":false,"title":null,"domain":false,"tickSize":5}},
     "y":{"datum":12,"type":"ordinal"}}}
  ],
  "resolve":{"axis":{"x":"independent"}}}
 ],"spacing":26,"resolve":{"scale":{"color":"independent"},"legend":{"color":"independent"}}}
],
"spacing":24,
"resolve":{"scale":{"color":"independent"},"legend":{"color":"independent"}}
}
